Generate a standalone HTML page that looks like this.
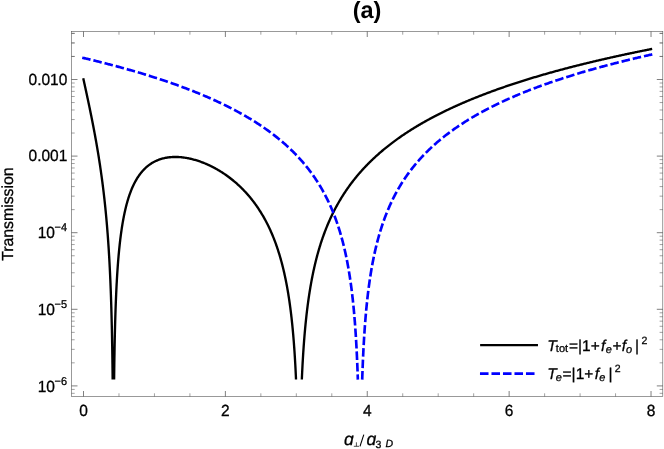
<!DOCTYPE html>
<html><head><meta charset="utf-8"><title>(a)</title>
<style>
html,body{margin:0;padding:0;background:#fff;}
body{width:664px;height:449px;overflow:hidden;font-family:"Liberation Sans",sans-serif;}
svg{display:block;font-family:"Liberation Sans",sans-serif;} text{filter:grayscale(1);text-rendering:geometricPrecision;stroke:#000;stroke-width:0.3px;}
</style></head><body>
<svg width="664" height="449" viewBox="0 0 664 449">
<rect x="0" y="0" width="664" height="449" fill="#fff"/>
<!-- curves -->
<path d="M83.50,79.42 L83.68,80.23 L83.85,81.03 L84.03,81.84 L84.21,82.65 L84.39,83.46 L84.56,84.27 L84.74,85.08 L84.92,85.89 L85.10,86.70 L85.27,87.52 L85.45,88.33 L85.63,89.15 L85.81,89.96 L85.98,90.78 L86.16,91.60 L86.34,92.42 L86.51,93.24 L86.69,94.07 L86.87,94.89 L87.05,95.72 L87.22,96.55 L87.40,97.38 L87.58,98.21 L87.76,99.04 L87.93,99.87 L88.11,100.71 L88.29,101.55 L88.47,102.39 L88.64,103.23 L88.82,104.08 L89.00,104.92 L89.18,105.77 L89.35,106.62 L89.53,107.48 L89.71,108.33 L89.88,109.19 L90.06,110.05 L90.24,110.91 L90.42,111.78 L90.59,112.65 L90.77,113.52 L90.95,114.40 L91.13,115.27 L91.30,116.15 L91.48,117.04 L91.66,117.92 L91.84,118.81 L92.01,119.71 L92.19,120.61 L92.37,121.51 L92.54,122.41 L92.72,123.32 L92.90,124.23 L93.08,125.15 L93.25,126.06 L93.43,126.99 L93.61,127.92 L93.79,128.85 L93.96,129.78 L94.14,130.73 L94.32,131.67 L94.50,132.62 L94.67,133.58 L94.85,134.54 L95.03,135.50 L95.21,136.47 L95.38,137.45 L95.56,138.43 L95.70,139.22 L95.84,140.01 L95.99,140.81 L96.13,141.61 L96.27,142.41 L96.41,143.22 L96.55,144.04 L96.69,144.85 L96.84,145.67 L96.98,146.50 L97.12,147.33 L97.26,148.16 L97.40,149.00 L97.55,149.84 L97.69,150.69 L97.83,151.54 L97.97,152.40 L98.11,153.26 L98.26,154.13 L98.40,155.01 L98.54,155.89 L98.68,156.77 L98.82,157.66 L98.96,158.56 L99.11,159.46 L99.25,160.37 L99.39,161.28 L99.53,162.20 L99.67,163.13 L99.82,164.06 L99.96,165.00 L100.10,165.95 L100.24,166.90 L100.38,167.86 L100.53,168.83 L100.67,169.81 L100.81,170.79 L100.95,171.79 L101.09,172.79 L101.23,173.80 L101.38,174.81 L101.52,175.84 L101.66,176.88 L101.80,177.92 L101.94,178.97 L102.05,179.77 L102.16,180.57 L102.26,181.38 L102.37,182.20 L102.48,183.02 L102.58,183.84 L102.69,184.68 L102.80,185.52 L102.90,186.36 L103.01,187.21 L103.11,188.07 L103.22,188.94 L103.33,189.81 L103.43,190.69 L103.54,191.58 L103.65,192.47 L103.75,193.38 L103.86,194.29 L103.97,195.21 L104.07,196.13 L104.18,197.07 L104.29,198.01 L104.39,198.96 L104.50,199.93 L104.60,200.90 L104.71,201.88 L104.82,202.87 L104.92,203.87 L105.03,204.88 L105.14,205.90 L105.24,206.94 L105.35,207.98 L105.46,209.04 L105.56,210.10 L105.67,211.18 L105.78,212.27 L105.88,213.38 L105.99,214.50 L106.09,215.63 L106.20,216.77 L106.31,217.93 L106.41,219.11 L106.52,220.30 L106.59,221.10 L106.66,221.91 L106.73,222.72 L106.80,223.55 L106.87,224.38 L106.95,225.22 L107.02,226.07 L107.09,226.92 L107.16,227.79 L107.23,228.66 L107.30,229.54 L107.37,230.43 L107.44,231.33 L107.51,232.24 L107.58,233.16 L107.66,234.09 L107.73,235.03 L107.80,235.98 L107.87,236.94 L107.94,237.91 L108.01,238.89 L108.08,239.88 L108.15,240.89 L108.22,241.91 L108.29,242.94 L108.36,243.98 L108.44,245.04 L108.51,246.11 L108.58,247.19 L108.65,248.29 L108.72,249.41 L108.79,250.53 L108.86,251.68 L108.93,252.84 L109.00,254.02 L109.07,255.21 L109.14,256.43 L109.22,257.66 L109.29,258.91 L109.36,260.18 L109.43,261.48 L109.50,262.79 L109.57,264.13 L109.64,265.49 L109.71,266.87 L109.78,268.28 L109.85,269.71 L109.93,271.17 L110.00,272.66 L110.07,274.18 L110.14,275.73 L110.21,277.31 L110.24,278.11 L110.28,278.92 L110.32,279.74 L110.35,280.57 L110.39,281.41 L110.42,282.26 L110.46,283.12 L110.49,283.98 L110.53,284.86 L110.56,285.75 L110.60,286.65 L110.63,287.56 L110.67,288.48 L110.71,289.41 L110.74,290.35 L110.78,291.31 L110.81,292.28 L110.85,293.26 L110.88,294.25 L110.92,295.26 L110.95,296.28 L110.99,297.31 L111.02,298.36 L111.06,299.43 L111.10,300.51 L111.13,301.61 L111.17,302.72 L111.20,303.85 L111.24,305.00 L111.27,306.17 L111.31,307.36 L111.34,308.56 L111.38,309.79 L111.41,311.04 L111.45,312.31 L111.49,313.60 L111.52,314.91 L111.56,316.25 L111.59,317.62 L111.63,319.01 L111.66,320.43 L111.70,321.88 L111.73,323.36 L111.77,324.86 L111.81,326.41 L111.84,327.98 L111.88,329.59 L111.91,331.24 L111.95,332.93 L111.98,334.66 L112.02,336.43 L112.05,338.25 L112.09,340.12 L112.12,342.04 L112.16,344.01 L112.20,346.04 L112.23,348.13 L112.27,350.28 L112.30,352.51 L112.34,354.80 L112.37,357.18 L112.41,359.63 L112.44,362.18 L112.48,364.83 L112.51,367.58 L112.55,370.44 L112.59,373.43 L112.62,376.56 L112.64,378.30 M114.13,378.30 L114.15,376.54 L114.18,373.61 L114.22,370.81 L114.25,368.13 L114.29,365.56 L114.32,363.08 L114.36,360.70 L114.39,358.40 L114.43,356.19 L114.47,354.04 L114.50,351.97 L114.54,349.96 L114.57,348.02 L114.61,346.13 L114.64,344.30 L114.68,342.52 L114.71,340.79 L114.75,339.10 L114.78,337.46 L114.82,335.86 L114.86,334.31 L114.89,332.78 L114.93,331.30 L114.96,329.85 L115.00,328.43 L115.03,327.05 L115.07,325.69 L115.10,324.37 L115.14,323.07 L115.17,321.80 L115.21,320.55 L115.25,319.33 L115.28,318.13 L115.32,316.96 L115.35,315.80 L115.39,314.67 L115.42,313.56 L115.46,312.47 L115.49,311.40 L115.53,310.35 L115.56,309.31 L115.60,308.29 L115.64,307.29 L115.67,306.31 L115.71,305.34 L115.74,304.39 L115.78,303.45 L115.81,302.53 L115.85,301.62 L115.88,300.72 L115.92,299.84 L115.96,298.97 L115.99,298.11 L116.03,297.26 L116.06,296.43 L116.10,295.61 L116.13,294.80 L116.17,294.00 L116.24,292.43 L116.31,290.90 L116.38,289.41 L116.45,287.96 L116.52,286.54 L116.59,285.16 L116.66,283.81 L116.74,282.49 L116.81,281.20 L116.88,279.94 L116.95,278.70 L117.02,277.49 L117.09,276.31 L117.16,275.15 L117.23,274.01 L117.30,272.90 L117.37,271.81 L117.44,270.73 L117.52,269.68 L117.59,268.65 L117.66,267.64 L117.73,266.64 L117.80,265.67 L117.87,264.71 L117.94,263.76 L118.01,262.83 L118.08,261.92 L118.15,261.02 L118.23,260.14 L118.30,259.27 L118.37,258.42 L118.44,257.57 L118.51,256.75 L118.58,255.93 L118.65,255.13 L118.76,253.94 L118.86,252.78 L118.97,251.65 L119.08,250.54 L119.18,249.46 L119.29,248.39 L119.40,247.35 L119.50,246.33 L119.61,245.33 L119.71,244.34 L119.82,243.38 L119.93,242.43 L120.03,241.51 L120.14,240.59 L120.25,239.70 L120.35,238.82 L120.46,237.95 L120.57,237.10 L120.67,236.27 L120.78,235.45 L120.89,234.64 L120.99,233.85 L121.13,232.81 L121.28,231.79 L121.42,230.79 L121.56,229.82 L121.70,228.86 L121.84,227.93 L121.98,227.01 L122.13,226.11 L122.27,225.22 L122.41,224.36 L122.55,223.51 L122.69,222.67 L122.84,221.85 L122.98,221.05 L123.12,220.26 L123.30,219.29 L123.47,218.34 L123.65,217.41 L123.83,216.51 L124.01,215.62 L124.18,214.75 L124.36,213.89 L124.54,213.06 L124.72,212.24 L124.89,211.43 L125.07,210.64 L125.28,209.72 L125.50,208.81 L125.71,207.93 L125.92,207.06 L126.13,206.21 L126.35,205.38 L126.56,204.57 L126.77,203.77 L126.99,203.00 L127.23,202.11 L127.48,201.24 L127.73,200.39 L127.98,199.56 L128.23,198.75 L128.48,197.96 L128.72,197.19 L129.01,196.32 L129.29,195.48 L129.58,194.66 L129.86,193.85 L130.14,193.07 L130.43,192.30 L130.75,191.46 L131.07,190.65 L131.38,189.85 L131.70,189.07 L132.02,188.31 L132.34,187.57 L132.70,186.77 L133.05,185.99 L133.41,185.23 L133.76,184.50 L134.12,183.78 L134.51,183.01 L134.90,182.26 L135.29,181.53 L135.68,180.82 L136.10,180.07 L136.53,179.35 L136.95,178.64 L137.38,177.96 L137.84,177.23 L138.30,176.54 L138.76,175.86 L139.22,175.20 L139.72,174.52 L140.22,173.86 L140.71,173.22 L141.25,172.55 L141.78,171.91 L142.31,171.29 L142.84,170.69 L143.41,170.08 L143.98,169.48 L144.54,168.91 L145.15,168.32 L145.75,167.76 L146.35,167.22 L146.99,166.67 L147.63,166.14 L148.27,165.63 L148.91,165.14 L149.58,164.65 L150.25,164.18 L150.93,163.72 L151.60,163.29 L152.31,162.86 L153.02,162.45 L153.73,162.05 L154.44,161.68 L155.18,161.30 L155.93,160.95 L156.67,160.61 L157.42,160.30 L158.16,160.00 L158.94,159.70 L159.73,159.42 L160.51,159.16 L161.29,158.92 L162.07,158.69 L162.85,158.48 L163.63,158.29 L164.41,158.11 L165.22,157.93 L166.04,157.78 L166.85,157.63 L167.67,157.51 L168.49,157.39 L169.30,157.29 L170.12,157.21 L170.93,157.13 L171.75,157.07 L172.57,157.03 L173.38,156.99 L174.20,156.97 L175.01,156.96 L175.83,156.96 L176.64,156.98 L177.46,157.00 L178.28,157.03 L179.09,157.08 L179.91,157.14 L180.72,157.20 L181.54,157.28 L182.35,157.37 L183.17,157.46 L183.99,157.57 L184.80,157.69 L185.62,157.81 L186.43,157.95 L187.25,158.10 L188.07,158.25 L188.88,158.41 L189.70,158.59 L190.51,158.77 L191.29,158.95 L192.07,159.14 L192.85,159.34 L193.63,159.54 L194.41,159.76 L195.20,159.98 L195.98,160.21 L196.76,160.45 L197.54,160.69 L198.32,160.95 L199.10,161.21 L199.88,161.48 L200.66,161.75 L201.44,162.04 L202.22,162.33 L203.00,162.63 L203.74,162.92 L204.49,163.22 L205.23,163.53 L205.98,163.84 L206.72,164.17 L207.47,164.49 L208.21,164.83 L208.96,165.17 L209.70,165.52 L210.45,165.88 L211.19,166.24 L211.94,166.61 L212.68,166.99 L213.43,167.38 L214.14,167.75 L214.85,168.13 L215.55,168.52 L216.26,168.91 L216.97,169.31 L217.68,169.72 L218.39,170.14 L219.10,170.56 L219.81,170.99 L220.52,171.42 L221.23,171.87 L221.94,172.32 L222.61,172.75 L223.29,173.19 L223.96,173.64 L224.64,174.10 L225.31,174.56 L225.98,175.03 L226.66,175.50 L227.33,175.99 L228.00,176.48 L228.68,176.98 L229.35,177.48 L229.99,177.97 L230.63,178.46 L231.27,178.96 L231.91,179.47 L232.54,179.98 L233.18,180.50 L233.82,181.03 L234.46,181.56 L235.10,182.11 L235.74,182.66 L236.34,183.19 L236.94,183.72 L237.55,184.26 L238.15,184.81 L238.75,185.37 L239.36,185.93 L239.96,186.50 L240.56,187.08 L241.16,187.67 L241.77,188.27 L242.33,188.83 L242.90,189.41 L243.47,189.99 L244.04,190.58 L244.60,191.18 L245.17,191.79 L245.74,192.40 L246.31,193.02 L246.87,193.65 L247.41,194.25 L247.94,194.86 L248.47,195.47 L249.00,196.10 L249.54,196.73 L250.07,197.37 L250.60,198.01 L251.13,198.67 L251.66,199.33 L252.16,199.96 L252.66,200.60 L253.15,201.24 L253.65,201.90 L254.15,202.56 L254.64,203.23 L255.14,203.91 L255.64,204.59 L256.13,205.29 L256.59,205.94 L257.05,206.61 L257.52,207.28 L257.98,207.96 L258.44,208.65 L258.90,209.35 L259.36,210.06 L259.82,210.77 L260.28,211.50 L260.71,212.18 L261.13,212.87 L261.56,213.56 L261.99,214.27 L262.41,214.98 L262.84,215.71 L263.26,216.44 L263.69,217.18 L264.11,217.94 L264.50,218.64 L264.89,219.34 L265.28,220.06 L265.67,220.79 L266.06,221.52 L266.45,222.27 L266.84,223.02 L267.23,223.79 L267.62,224.56 L268.01,225.35 L268.37,226.07 L268.72,226.81 L269.08,227.55 L269.43,228.30 L269.79,229.06 L270.14,229.83 L270.50,230.61 L270.85,231.41 L271.21,232.21 L271.56,233.02 L271.88,233.77 L272.20,234.52 L272.52,235.28 L272.84,236.05 L273.16,236.83 L273.48,237.62 L273.80,238.43 L274.12,239.24 L274.44,240.06 L274.75,240.90 L275.04,241.65 L275.32,242.41 L275.61,243.19 L275.89,243.97 L276.17,244.76 L276.46,245.56 L276.74,246.37 L277.02,247.20 L277.31,248.03 L277.59,248.88 L277.88,249.74 L278.12,250.50 L278.37,251.27 L278.62,252.05 L278.87,252.84 L279.12,253.64 L279.37,254.46 L279.61,255.28 L279.86,256.11 L280.11,256.96 L280.36,257.81 L280.61,258.68 L280.86,259.56 L281.10,260.45 L281.32,261.23 L281.53,262.01 L281.74,262.81 L281.95,263.62 L282.17,264.43 L282.38,265.26 L282.59,266.10 L282.81,266.95 L283.02,267.81 L283.23,268.68 L283.44,269.57 L283.66,270.46 L283.87,271.37 L284.08,272.30 L284.26,273.08 L284.44,273.87 L284.61,274.67 L284.79,275.48 L284.97,276.30 L285.15,277.13 L285.32,277.98 L285.50,278.83 L285.68,279.70 L285.86,280.57 L286.03,281.46 L286.21,282.37 L286.39,283.28 L286.57,284.21 L286.74,285.15 L286.92,286.11 L287.10,287.08 L287.24,287.87 L287.38,288.67 L287.52,289.47 L287.67,290.29 L287.81,291.12 L287.95,291.96 L288.09,292.81 L288.23,293.67 L288.37,294.54 L288.52,295.43 L288.66,296.33 L288.80,297.24 L288.94,298.16 L289.08,299.10 L289.23,300.05 L289.37,301.01 L289.51,301.99 L289.65,302.99 L289.79,304.00 L289.94,305.02 L290.08,306.07 L290.18,306.86 L290.29,307.66 L290.40,308.48 L290.50,309.30 L290.61,310.13 L290.72,310.98 L290.82,311.83 L290.93,312.70 L291.03,313.58 L291.14,314.47 L291.25,315.38 L291.35,316.29 L291.46,317.22 L291.57,318.17 L291.67,319.12 L291.78,320.09 L291.89,321.08 L291.99,322.08 L292.10,323.10 L292.21,324.13 L292.31,325.18 L292.42,326.25 L292.52,327.33 L292.63,328.43 L292.74,329.56 L292.84,330.70 L292.95,331.86 L293.06,333.04 L293.13,333.84 L293.20,334.65 L293.27,335.47 L293.34,336.30 L293.41,337.15 L293.48,338.00 L293.55,338.86 L293.62,339.74 L293.70,340.62 L293.77,341.52 L293.84,342.44 L293.91,343.36 L293.98,344.30 L294.05,345.25 L294.12,346.22 L294.19,347.20 L294.26,348.19 L294.33,349.20 L294.40,350.23 L294.48,351.27 L294.55,352.33 L294.62,353.41 L294.69,354.50 L294.76,355.61 L294.83,356.74 L294.90,357.90 L294.97,359.07 L295.04,360.26 L295.11,361.48 L295.18,362.72 L295.26,363.98 L295.33,365.27 L295.40,366.58 L295.47,367.92 L295.54,369.29 L295.61,370.68 L295.68,372.11 L295.75,373.57 L295.82,375.06 L295.89,376.58 L295.97,378.15 L295.97,378.30 M301.88,378.30 L301.92,377.38 L302.00,375.81 L302.07,374.28 L302.14,372.78 L302.21,371.31 L302.28,369.88 L302.35,368.47 L302.42,367.10 L302.49,365.75 L302.56,364.43 L302.63,363.13 L302.70,361.86 L302.78,360.61 L302.85,359.38 L302.92,358.18 L302.99,357.00 L303.06,355.84 L303.13,354.69 L303.20,353.57 L303.27,352.47 L303.34,351.38 L303.41,350.31 L303.48,349.26 L303.56,348.22 L303.63,347.20 L303.70,346.20 L303.77,345.20 L303.84,344.23 L303.91,343.27 L303.98,342.32 L304.05,341.38 L304.12,340.46 L304.19,339.55 L304.27,338.65 L304.34,337.76 L304.41,336.89 L304.48,336.02 L304.55,335.17 L304.62,334.33 L304.69,333.50 L304.76,332.68 L304.83,331.86 L304.90,331.06 L305.01,329.88 L305.12,328.71 L305.22,327.57 L305.33,326.44 L305.44,325.33 L305.54,324.24 L305.65,323.17 L305.76,322.11 L305.86,321.07 L305.97,320.05 L306.07,319.04 L306.18,318.05 L306.29,317.07 L306.39,316.10 L306.50,315.15 L306.61,314.21 L306.71,313.28 L306.82,312.37 L306.93,311.47 L307.03,310.58 L307.14,309.70 L307.24,308.83 L307.35,307.98 L307.46,307.13 L307.56,306.30 L307.67,305.47 L307.78,304.66 L307.88,303.85 L307.99,303.06 L308.13,302.01 L308.27,300.98 L308.42,299.96 L308.56,298.96 L308.70,297.98 L308.84,297.01 L308.98,296.05 L309.12,295.10 L309.27,294.17 L309.41,293.25 L309.55,292.34 L309.69,291.45 L309.83,290.56 L309.98,289.69 L310.12,288.83 L310.26,287.98 L310.40,287.14 L310.54,286.31 L310.69,285.49 L310.83,284.68 L310.97,283.88 L311.11,283.09 L311.29,282.11 L311.47,281.15 L311.64,280.20 L311.82,279.26 L312.00,278.34 L312.18,277.43 L312.35,276.53 L312.53,275.64 L312.71,274.76 L312.88,273.90 L313.06,273.04 L313.24,272.20 L313.42,271.36 L313.59,270.54 L313.77,269.72 L313.95,268.92 L314.13,268.12 L314.30,267.34 L314.52,266.41 L314.73,265.49 L314.94,264.58 L315.15,263.68 L315.37,262.80 L315.58,261.93 L315.79,261.06 L316.01,260.21 L316.22,259.37 L316.43,258.54 L316.64,257.72 L316.86,256.91 L317.07,256.11 L317.28,255.31 L317.50,254.53 L317.71,253.76 L317.96,252.86 L318.20,251.98 L318.45,251.11 L318.70,250.25 L318.95,249.40 L319.20,248.56 L319.45,247.73 L319.69,246.91 L319.94,246.10 L320.19,245.30 L320.44,244.51 L320.69,243.73 L320.94,242.96 L321.18,242.19 L321.47,241.33 L321.75,240.47 L322.04,239.63 L322.32,238.80 L322.60,237.97 L322.89,237.16 L323.17,236.36 L323.45,235.56 L323.74,234.77 L324.02,234.00 L324.31,233.23 L324.59,232.47 L324.87,231.71 L325.19,230.88 L325.51,230.05 L325.83,229.23 L326.15,228.43 L326.47,227.63 L326.79,226.84 L327.11,226.06 L327.43,225.29 L327.75,224.52 L328.07,223.77 L328.38,223.02 L328.70,222.28 L329.06,221.47 L329.41,220.66 L329.77,219.87 L330.12,219.08 L330.48,218.31 L330.83,217.54 L331.19,216.78 L331.54,216.03 L331.90,215.28 L332.25,214.55 L332.61,213.82 L332.96,213.10 L333.35,212.31 L333.74,211.54 L334.13,210.77 L334.52,210.01 L334.91,209.26 L335.30,208.52 L335.69,207.78 L336.08,207.05 L336.47,206.33 L336.86,205.62 L337.25,204.91 L337.64,204.21 L338.07,203.46 L338.49,202.71 L338.92,201.97 L339.35,201.24 L339.77,200.52 L340.20,199.80 L340.62,199.09 L341.05,198.39 L341.47,197.69 L341.90,197.00 L342.32,196.32 L342.79,195.59 L343.25,194.87 L343.71,194.15 L344.17,193.44 L344.63,192.74 L345.09,192.04 L345.55,191.35 L346.01,190.67 L346.47,189.99 L346.94,189.32 L347.40,188.66 L347.86,188.00 L348.35,187.30 L348.85,186.61 L349.35,185.92 L349.84,185.24 L350.34,184.56 L350.84,183.89 L351.33,183.23 L351.83,182.58 L352.33,181.93 L352.82,181.28 L353.32,180.64 L353.82,180.01 L354.31,179.38 L354.85,178.72 L355.38,178.06 L355.91,177.40 L356.44,176.76 L356.97,176.11 L357.51,175.48 L358.04,174.85 L358.57,174.22 L359.10,173.60 L359.63,172.99 L360.17,172.38 L360.70,171.77 L361.23,171.17 L361.80,170.54 L362.37,169.91 L362.93,169.29 L363.50,168.67 L364.07,168.06 L364.64,167.45 L365.20,166.85 L365.77,166.26 L366.34,165.66 L366.91,165.08 L367.47,164.49 L368.04,163.92 L368.61,163.34 L369.18,162.78 L369.78,162.18 L370.38,161.58 L370.98,160.99 L371.59,160.41 L372.19,159.83 L372.79,159.26 L373.40,158.69 L374.00,158.12 L374.60,157.56 L375.21,157.00 L375.81,156.45 L376.41,155.90 L377.01,155.35 L377.62,154.81 L378.22,154.28 L378.82,153.75 L379.43,153.22 L380.06,152.66 L380.70,152.11 L381.34,151.56 L381.98,151.02 L382.62,150.48 L383.26,149.95 L383.90,149.42 L384.53,148.89 L385.17,148.37 L385.81,147.85 L386.45,147.33 L387.09,146.82 L387.73,146.31 L388.36,145.81 L389.00,145.31 L389.64,144.81 L390.28,144.32 L390.92,143.82 L391.56,143.34 L392.20,142.85 L392.87,142.35 L393.54,141.84 L394.22,141.34 L394.89,140.84 L395.57,140.35 L396.24,139.86 L396.91,139.37 L397.59,138.89 L398.26,138.41 L398.93,137.93 L399.61,137.46 L400.28,136.99 L400.96,136.52 L401.63,136.05 L402.30,135.59 L402.98,135.13 L403.65,134.68 L404.33,134.22 L405.00,133.77 L405.67,133.32 L406.35,132.88 L407.02,132.44 L407.70,132.00 L408.37,131.56 L409.04,131.13 L409.72,130.70 L410.43,130.25 L411.14,129.80 L411.85,129.35 L412.56,128.91 L413.26,128.47 L413.97,128.03 L414.68,127.60 L415.39,127.16 L416.10,126.73 L416.81,126.31 L417.52,125.88 L418.23,125.46 L418.94,125.04 L419.65,124.62 L420.36,124.21 L421.07,123.80 L421.78,123.39 L422.49,122.98 L423.20,122.57 L423.91,122.17 L424.61,121.77 L425.32,121.37 L426.03,120.97 L426.74,120.58 L427.45,120.19 L428.16,119.80 L428.87,119.41 L429.58,119.02 L430.29,118.64 L431.00,118.26 L431.71,117.88 L432.42,117.50 L433.13,117.13 L433.84,116.75 L434.55,116.38 L435.29,115.99 L436.04,115.61 L436.78,115.22 L437.53,114.84 L438.27,114.46 L439.02,114.08 L439.76,113.71 L440.51,113.33 L441.25,112.96 L442.00,112.59 L442.74,112.22 L443.49,111.86 L444.23,111.49 L444.97,111.13 L445.72,110.77 L446.46,110.41 L447.21,110.05 L447.95,109.70 L448.70,109.34 L449.44,108.99 L450.19,108.64 L450.93,108.29 L451.68,107.95 L452.42,107.60 L453.17,107.26 L453.91,106.92 L454.66,106.58 L455.40,106.24 L456.15,105.90 L456.89,105.57 L457.64,105.23 L458.38,104.90 L459.13,104.57 L459.87,104.24 L460.62,103.92 L461.36,103.59 L462.11,103.26 L462.85,102.94 L463.60,102.62 L464.34,102.30 L465.09,101.98 L465.83,101.66 L466.58,101.35 L467.32,101.03 L468.07,100.72 L468.81,100.41 L469.56,100.10 L470.30,99.79 L471.05,99.48 L471.79,99.18 L472.53,98.87 L473.28,98.57 L474.02,98.27 L474.77,97.97 L475.51,97.67 L476.26,97.37 L477.00,97.07 L477.75,96.78 L478.49,96.48 L479.24,96.19 L479.98,95.89 L480.76,95.59 L481.54,95.29 L482.32,94.98 L483.11,94.68 L483.89,94.38 L484.67,94.09 L485.45,93.79 L486.23,93.49 L487.01,93.20 L487.79,92.90 L488.57,92.61 L489.35,92.32 L490.13,92.03 L490.91,91.74 L491.69,91.46 L492.47,91.17 L493.25,90.89 L494.03,90.60 L494.81,90.32 L495.59,90.04 L496.37,89.76 L497.15,89.48 L497.93,89.20 L498.71,88.92 L499.49,88.65 L500.27,88.37 L501.05,88.10 L501.83,87.82 L502.61,87.55 L503.39,87.28 L504.17,87.01 L504.95,86.74 L505.73,86.48 L506.52,86.21 L507.30,85.94 L508.08,85.68 L508.86,85.42 L509.64,85.15 L510.42,84.89 L511.20,84.63 L511.98,84.37 L512.76,84.11 L513.54,83.86 L514.32,83.60 L515.10,83.34 L515.88,83.09 L516.66,82.84 L517.44,82.58 L518.22,82.33 L519.00,82.08 L519.78,81.83 L520.56,81.58 L521.34,81.33 L522.12,81.08 L522.90,80.84 L523.68,80.59 L524.46,80.35 L525.24,80.10 L526.02,79.86 L526.80,79.62 L527.58,79.38 L528.36,79.14 L529.15,78.90 L529.93,78.66 L530.71,78.42 L531.49,78.18 L532.27,77.95 L533.05,77.71 L533.83,77.47 L534.61,77.24 L535.39,77.01 L536.17,76.77 L536.95,76.54 L537.73,76.31 L538.51,76.08 L539.29,75.85 L540.07,75.62 L540.85,75.40 L541.63,75.17 L542.41,74.94 L543.19,74.72 L543.97,74.49 L544.75,74.27 L545.53,74.04 L546.31,73.82 L547.09,73.60 L547.87,73.38 L548.65,73.16 L549.43,72.94 L550.21,72.72 L550.99,72.50 L551.77,72.28 L552.56,72.07 L553.34,71.85 L554.12,71.63 L554.90,71.42 L555.68,71.21 L556.46,70.99 L557.24,70.78 L558.02,70.57 L558.80,70.36 L559.58,70.14 L560.36,69.93 L561.14,69.72 L561.92,69.52 L562.70,69.31 L563.48,69.10 L564.26,68.89 L565.04,68.69 L565.82,68.48 L566.60,68.27 L567.38,68.07 L568.16,67.87 L568.94,67.66 L569.72,67.46 L570.50,67.26 L571.28,67.06 L572.06,66.86 L572.84,66.65 L573.62,66.46 L574.40,66.26 L575.19,66.06 L575.97,65.86 L576.75,65.66 L577.53,65.47 L578.31,65.27 L579.09,65.07 L579.87,64.88 L580.65,64.68 L581.43,64.49 L582.21,64.30 L582.99,64.10 L583.77,63.91 L584.55,63.72 L585.33,63.53 L586.11,63.34 L586.89,63.15 L587.67,62.96 L588.45,62.77 L589.23,62.58 L590.01,62.39 L590.79,62.20 L591.57,62.02 L592.35,61.83 L593.13,61.64 L593.91,61.46 L594.69,61.27 L595.47,61.09 L596.25,60.91 L597.03,60.72 L597.81,60.54 L598.60,60.36 L599.38,60.18 L600.16,59.99 L600.94,59.81 L601.72,59.63 L602.50,59.45 L603.28,59.27 L604.06,59.09 L604.84,58.92 L605.62,58.74 L606.40,58.56 L607.18,58.38 L607.96,58.21 L608.78,58.02 L609.59,57.84 L610.41,57.66 L611.22,57.47 L612.04,57.29 L612.85,57.11 L613.67,56.93 L614.49,56.75 L615.30,56.57 L616.12,56.39 L616.93,56.21 L617.75,56.03 L618.56,55.85 L619.38,55.67 L620.20,55.50 L621.01,55.32 L621.83,55.14 L622.64,54.97 L623.46,54.79 L624.28,54.62 L625.09,54.44 L625.91,54.27 L626.72,54.10 L627.54,53.92 L628.35,53.75 L629.17,53.58 L629.99,53.41 L630.80,53.24 L631.62,53.07 L632.43,52.90 L633.25,52.73 L634.07,52.56 L634.88,52.39 L635.70,52.22 L636.51,52.05 L637.33,51.88 L638.14,51.72 L638.96,51.55 L639.78,51.38 L640.59,51.22 L641.41,51.05 L642.22,50.89 L643.04,50.72 L643.86,50.56 L644.67,50.39 L645.49,50.23 L646.30,50.07 L647.12,49.90 L647.93,49.74 L648.75,49.58 L649.57,49.42 L650.38,49.26 L651.02,49.13" fill="none" stroke="#000" stroke-width="2.35" stroke-linejoin="round" stroke-linecap="square"/>
<path d="M83.50,57.97 L84.28,58.15 L85.06,58.34 L85.84,58.52 L86.62,58.71 L87.40,58.90 L88.18,59.08 L88.96,59.27 L89.74,59.46 L90.52,59.65 L91.30,59.84 L92.08,60.03 L92.86,60.22 L93.64,60.41 L94.42,60.60 L95.21,60.79 L95.99,60.99 L96.77,61.18 L97.55,61.38 L98.33,61.57 L99.11,61.77 L99.89,61.96 L100.67,62.16 L101.45,62.35 L102.23,62.55 L103.01,62.75 L103.79,62.95 L104.57,63.15 L105.35,63.35 L106.13,63.55 L106.91,63.75 L107.69,63.95 L108.47,64.16 L109.25,64.36 L110.03,64.56 L110.81,64.77 L111.59,64.97 L112.37,65.18 L113.15,65.39 L113.93,65.59 L114.71,65.80 L115.49,66.01 L116.27,66.22 L117.05,66.43 L117.83,66.64 L118.62,66.85 L119.40,67.07 L120.18,67.28 L120.96,67.49 L121.74,67.71 L122.52,67.92 L123.30,68.14 L124.08,68.35 L124.86,68.57 L125.64,68.79 L126.42,69.01 L127.20,69.23 L127.98,69.45 L128.76,69.67 L129.54,69.89 L130.32,70.11 L131.10,70.34 L131.88,70.56 L132.66,70.79 L133.44,71.01 L134.22,71.24 L135.00,71.47 L135.78,71.70 L136.56,71.92 L137.34,72.15 L138.12,72.38 L138.90,72.62 L139.68,72.85 L140.46,73.08 L141.25,73.32 L142.03,73.55 L142.81,73.79 L143.59,74.02 L144.37,74.26 L145.15,74.50 L145.93,74.74 L146.71,74.98 L147.49,75.22 L148.27,75.46 L149.05,75.70 L149.83,75.95 L150.61,76.19 L151.39,76.44 L152.17,76.69 L152.95,76.93 L153.73,77.18 L154.51,77.43 L155.29,77.68 L156.07,77.93 L156.85,78.18 L157.63,78.44 L158.41,78.69 L159.19,78.95 L159.97,79.20 L160.75,79.46 L161.53,79.72 L162.31,79.98 L163.09,80.24 L163.88,80.50 L164.66,80.76 L165.44,81.03 L166.22,81.29 L167.00,81.56 L167.78,81.83 L168.56,82.09 L169.34,82.36 L170.12,82.63 L170.90,82.91 L171.68,83.18 L172.46,83.45 L173.24,83.73 L174.02,84.00 L174.80,84.28 L175.58,84.56 L176.36,84.84 L177.14,85.12 L177.92,85.40 L178.70,85.68 L179.48,85.97 L180.26,86.25 L181.04,86.54 L181.82,86.83 L182.60,87.12 L183.38,87.41 L184.16,87.70 L184.94,88.00 L185.72,88.29 L186.50,88.59 L187.29,88.89 L188.07,89.18 L188.85,89.48 L189.63,89.79 L190.41,90.09 L191.19,90.39 L191.93,90.69 L192.68,90.98 L193.42,91.27 L194.17,91.57 L194.91,91.87 L195.66,92.17 L196.40,92.47 L197.15,92.77 L197.89,93.07 L198.64,93.38 L199.38,93.68 L200.13,93.99 L200.87,94.30 L201.62,94.61 L202.36,94.92 L203.10,95.23 L203.85,95.55 L204.59,95.86 L205.34,96.18 L206.08,96.50 L206.83,96.82 L207.57,97.14 L208.32,97.47 L209.06,97.79 L209.81,98.12 L210.55,98.45 L211.30,98.78 L212.04,99.11 L212.79,99.45 L213.53,99.78 L214.28,100.12 L215.02,100.46 L215.77,100.80 L216.51,101.14 L217.26,101.49 L218.00,101.83 L218.75,102.18 L219.49,102.53 L220.24,102.88 L220.98,103.23 L221.73,103.59 L222.47,103.95 L223.22,104.31 L223.96,104.67 L224.71,105.03 L225.45,105.40 L226.20,105.77 L226.94,106.14 L227.69,106.51 L228.43,106.88 L229.18,107.26 L229.92,107.64 L230.67,108.02 L231.41,108.40 L232.15,108.78 L232.90,109.17 L233.61,109.54 L234.32,109.91 L235.03,110.29 L235.74,110.67 L236.45,111.05 L237.16,111.43 L237.87,111.81 L238.57,112.20 L239.28,112.59 L239.99,112.98 L240.70,113.37 L241.41,113.76 L242.12,114.16 L242.83,114.56 L243.54,114.96 L244.25,115.37 L244.96,115.78 L245.67,116.19 L246.38,116.60 L247.09,117.02 L247.80,117.43 L248.51,117.85 L249.22,118.28 L249.93,118.70 L250.63,119.13 L251.34,119.56 L252.05,120.00 L252.76,120.44 L253.47,120.88 L254.18,121.32 L254.89,121.76 L255.60,122.21 L256.31,122.67 L256.98,123.10 L257.66,123.53 L258.33,123.97 L259.01,124.41 L259.68,124.86 L260.35,125.31 L261.03,125.76 L261.70,126.21 L262.38,126.67 L263.05,127.12 L263.72,127.59 L264.40,128.05 L265.07,128.52 L265.74,129.00 L266.42,129.47 L267.09,129.95 L267.77,130.44 L268.44,130.92 L269.11,131.41 L269.79,131.91 L270.46,132.40 L271.14,132.91 L271.81,133.41 L272.45,133.89 L273.09,134.38 L273.73,134.87 L274.36,135.36 L275.00,135.86 L275.64,136.36 L276.28,136.86 L276.92,137.37 L277.56,137.88 L278.19,138.40 L278.83,138.92 L279.47,139.45 L280.11,139.97 L280.75,140.51 L281.39,141.04 L282.03,141.59 L282.66,142.13 L283.30,142.68 L283.94,143.24 L284.54,143.77 L285.15,144.30 L285.75,144.84 L286.35,145.38 L286.96,145.92 L287.56,146.47 L288.16,147.03 L288.76,147.59 L289.37,148.15 L289.97,148.72 L290.57,149.30 L291.18,149.88 L291.78,150.46 L292.38,151.05 L292.99,151.65 L293.55,152.21 L294.12,152.78 L294.69,153.36 L295.26,153.94 L295.82,154.52 L296.39,155.11 L296.96,155.71 L297.53,156.31 L298.09,156.91 L298.66,157.53 L299.23,158.14 L299.80,158.77 L300.36,159.40 L300.93,160.03 L301.46,160.63 L302.00,161.24 L302.53,161.85 L303.06,162.47 L303.59,163.09 L304.12,163.72 L304.66,164.36 L305.19,165.00 L305.72,165.65 L306.25,166.30 L306.78,166.97 L307.32,167.63 L307.81,168.26 L308.31,168.90 L308.81,169.54 L309.30,170.19 L309.80,170.84 L310.30,171.50 L310.79,172.17 L311.29,172.84 L311.78,173.52 L312.28,174.21 L312.78,174.91 L313.27,175.61 L313.74,176.27 L314.20,176.94 L314.66,177.61 L315.12,178.29 L315.58,178.97 L316.04,179.67 L316.50,180.37 L316.96,181.08 L317.42,181.79 L317.89,182.52 L318.35,183.25 L318.77,183.93 L319.20,184.62 L319.62,185.32 L320.05,186.02 L320.48,186.73 L320.90,187.45 L321.33,188.18 L321.75,188.92 L322.18,189.66 L322.60,190.41 L323.03,191.17 L323.42,191.88 L323.81,192.59 L324.20,193.31 L324.59,194.04 L324.98,194.78 L325.37,195.52 L325.76,196.27 L326.15,197.04 L326.54,197.81 L326.93,198.59 L327.32,199.38 L327.68,200.10 L328.03,200.83 L328.38,201.58 L328.74,202.33 L329.09,203.08 L329.45,203.85 L329.80,204.63 L330.16,205.41 L330.51,206.21 L330.87,207.01 L331.22,207.83 L331.54,208.57 L331.86,209.32 L332.18,210.08 L332.50,210.84 L332.82,211.62 L333.14,212.40 L333.46,213.20 L333.78,214.00 L334.10,214.82 L334.41,215.64 L334.73,216.48 L335.02,217.23 L335.30,217.98 L335.59,218.75 L335.87,219.53 L336.15,220.32 L336.44,221.11 L336.72,221.92 L337.00,222.73 L337.29,223.56 L337.57,224.39 L337.86,225.24 L338.14,226.10 L338.42,226.96 L338.67,227.73 L338.92,228.51 L339.17,229.30 L339.42,230.09 L339.66,230.90 L339.91,231.72 L340.16,232.54 L340.41,233.38 L340.66,234.23 L340.91,235.09 L341.15,235.96 L341.40,236.84 L341.65,237.73 L341.86,238.51 L342.08,239.29 L342.29,240.08 L342.50,240.89 L342.71,241.70 L342.93,242.52 L343.14,243.36 L343.35,244.20 L343.57,245.05 L343.78,245.92 L343.99,246.80 L344.20,247.69 L344.42,248.59 L344.63,249.50 L344.84,250.43 L345.02,251.21 L345.20,252.00 L345.38,252.80 L345.55,253.61 L345.73,254.43 L345.91,255.26 L346.08,256.10 L346.26,256.96 L346.44,257.82 L346.62,258.69 L346.79,259.58 L346.97,260.48 L347.15,261.39 L347.33,262.31 L347.50,263.25 L347.68,264.19 L347.86,265.16 L348.04,266.13 L348.18,266.93 L348.32,267.73 L348.46,268.54 L348.60,269.36 L348.74,270.19 L348.89,271.03 L349.03,271.89 L349.17,272.75 L349.31,273.63 L349.45,274.51 L349.60,275.41 L349.74,276.32 L349.88,277.25 L350.02,278.19 L350.16,279.14 L350.31,280.10 L350.45,281.08 L350.59,282.07 L350.73,283.08 L350.87,284.10 L351.01,285.14 L351.16,286.20 L351.26,287.00 L351.37,287.82 L351.48,288.64 L351.58,289.47 L351.69,290.32 L351.80,291.17 L351.90,292.04 L352.01,292.91 L352.11,293.80 L352.22,294.70 L352.33,295.62 L352.43,296.54 L352.54,297.48 L352.65,298.44 L352.75,299.40 L352.86,300.38 L352.97,301.38 L353.07,302.39 L353.18,303.42 L353.28,304.46 L353.39,305.52 L353.50,306.59 L353.60,307.69 L353.71,308.80 L353.82,309.93 L353.92,311.08 L354.03,312.25 L354.14,313.44 L354.21,314.25 L354.28,315.07 L354.35,315.89 L354.42,316.73 L354.49,317.58 L354.56,318.43 L354.63,319.30 L354.70,320.19 L354.77,321.08 L354.85,321.98 L354.92,322.90 L354.99,323.83 L355.06,324.78 L355.13,325.73 L355.20,326.70 L355.27,327.69 L355.34,328.69 L355.41,329.71 L355.48,330.74 L355.55,331.79 L355.63,332.85 L355.70,333.93 L355.77,335.03 L355.84,336.15 L355.91,337.29 L355.98,338.45 L356.05,339.62 L356.12,340.82 L356.19,342.04 L356.26,343.29 L356.34,344.55 L356.41,345.85 L356.48,347.16 L356.55,348.51 L356.62,349.88 L356.69,351.28 L356.76,352.71 L356.83,354.17 L356.90,355.67 L356.97,357.20 L357.04,358.76 L357.12,360.37 L357.15,361.18 L357.19,362.01 L357.22,362.85 L357.26,363.69 L357.29,364.55 L357.33,365.42 L357.36,366.30 L357.40,367.20 L357.43,368.10 L357.47,369.02 L357.51,369.95 L357.54,370.89 L357.58,371.85 L357.61,372.82 L357.65,373.81 L357.68,374.81 L357.72,375.82 L357.75,376.86 L357.79,377.90 L357.80,378.30 M362.25,378.30 L362.29,376.86 L362.33,375.82 L362.37,374.81 L362.40,373.81 L362.44,372.82 L362.47,371.85 L362.51,370.89 L362.54,369.95 L362.58,369.02 L362.61,368.10 L362.65,367.20 L362.68,366.30 L362.72,365.42 L362.76,364.55 L362.79,363.69 L362.83,362.85 L362.86,362.01 L362.90,361.18 L362.93,360.37 L362.97,359.56 L363.04,357.98 L363.11,356.43 L363.18,354.92 L363.25,353.44 L363.32,351.99 L363.39,350.58 L363.46,349.19 L363.54,347.83 L363.61,346.50 L363.68,345.20 L363.75,343.92 L363.82,342.66 L363.89,341.43 L363.96,340.22 L364.03,339.03 L364.10,337.86 L364.17,336.72 L364.25,335.59 L364.32,334.48 L364.39,333.39 L364.46,332.32 L364.53,331.26 L364.60,330.22 L364.67,329.20 L364.74,328.19 L364.81,327.20 L364.88,326.22 L364.95,325.25 L365.03,324.30 L365.10,323.37 L365.17,322.44 L365.24,321.53 L365.31,320.63 L365.38,319.74 L365.45,318.87 L365.52,318.00 L365.59,317.15 L365.66,316.31 L365.73,315.48 L365.81,314.66 L365.88,313.84 L365.95,313.04 L366.05,311.86 L366.16,310.69 L366.27,309.55 L366.37,308.43 L366.48,307.32 L366.59,306.23 L366.69,305.16 L366.80,304.11 L366.91,303.07 L367.01,302.05 L367.12,301.05 L367.22,300.05 L367.33,299.08 L367.44,298.12 L367.54,297.17 L367.65,296.23 L367.76,295.31 L367.86,294.40 L367.97,293.51 L368.08,292.62 L368.18,291.75 L368.29,290.88 L368.40,290.03 L368.50,289.19 L368.61,288.36 L368.71,287.54 L368.82,286.73 L368.93,285.93 L369.07,284.88 L369.21,283.85 L369.35,282.83 L369.49,281.82 L369.64,280.83 L369.78,279.86 L369.92,278.90 L370.06,277.95 L370.20,277.02 L370.35,276.10 L370.49,275.19 L370.63,274.29 L370.77,273.41 L370.91,272.53 L371.06,271.67 L371.20,270.82 L371.34,269.98 L371.48,269.15 L371.62,268.34 L371.76,267.53 L371.91,266.73 L372.05,265.94 L372.23,264.96 L372.40,264.00 L372.58,263.06 L372.76,262.12 L372.94,261.20 L373.11,260.30 L373.29,259.40 L373.47,258.52 L373.64,257.64 L373.82,256.78 L374.00,255.93 L374.18,255.10 L374.35,254.27 L374.53,253.45 L374.71,252.64 L374.89,251.84 L375.06,251.05 L375.28,250.12 L375.49,249.20 L375.70,248.29 L375.91,247.39 L376.13,246.50 L376.34,245.63 L376.55,244.77 L376.77,243.92 L376.98,243.08 L377.19,242.25 L377.40,241.43 L377.62,240.62 L377.83,239.82 L378.04,239.03 L378.26,238.25 L378.47,237.47 L378.72,236.58 L378.97,235.71 L379.21,234.84 L379.46,233.98 L379.71,233.14 L379.96,232.31 L380.21,231.48 L380.45,230.67 L380.70,229.87 L380.95,229.07 L381.20,228.29 L381.45,227.51 L381.70,226.75 L381.98,225.88 L382.26,225.03 L382.55,224.18 L382.83,223.35 L383.12,222.53 L383.40,221.71 L383.68,220.91 L383.97,220.12 L384.25,219.33 L384.53,218.56 L384.82,217.79 L385.10,217.04 L385.39,216.29 L385.70,215.46 L386.02,214.63 L386.34,213.82 L386.66,213.02 L386.98,212.23 L387.30,211.45 L387.62,210.67 L387.94,209.91 L388.26,209.15 L388.58,208.40 L388.90,207.66 L389.25,206.85 L389.61,206.05 L389.96,205.25 L390.32,204.47 L390.67,203.70 L391.02,202.93 L391.38,202.17 L391.73,201.43 L392.09,200.69 L392.44,199.95 L392.80,199.23 L393.19,198.44 L393.58,197.67 L393.97,196.90 L394.36,196.14 L394.75,195.39 L395.14,194.64 L395.53,193.91 L395.92,193.18 L396.31,192.46 L396.70,191.75 L397.09,191.05 L397.52,190.29 L397.94,189.54 L398.37,188.79 L398.79,188.06 L399.22,187.33 L399.64,186.61 L400.07,185.90 L400.50,185.20 L400.92,184.50 L401.35,183.82 L401.77,183.13 L402.23,182.40 L402.69,181.68 L403.16,180.97 L403.62,180.26 L404.08,179.56 L404.54,178.87 L405.00,178.18 L405.46,177.50 L405.92,176.83 L406.38,176.17 L406.84,175.51 L407.34,174.81 L407.84,174.11 L408.33,173.43 L408.83,172.75 L409.33,172.07 L409.82,171.41 L410.32,170.75 L410.82,170.09 L411.31,169.45 L411.81,168.81 L412.31,168.17 L412.80,167.54 L413.34,166.88 L413.87,166.22 L414.40,165.56 L414.93,164.92 L415.46,164.27 L416.00,163.64 L416.53,163.01 L417.06,162.39 L417.59,161.77 L418.12,161.16 L418.66,160.55 L419.19,159.95 L419.76,159.32 L420.32,158.69 L420.89,158.07 L421.46,157.45 L422.03,156.84 L422.59,156.23 L423.16,155.63 L423.73,155.04 L424.30,154.45 L424.86,153.86 L425.43,153.28 L426.00,152.71 L426.57,152.14 L427.13,151.58 L427.74,150.98 L428.34,150.39 L428.94,149.81 L429.55,149.23 L430.15,148.66 L430.75,148.09 L431.35,147.52 L431.96,146.96 L432.56,146.41 L433.16,145.86 L433.77,145.31 L434.37,144.77 L434.97,144.24 L435.58,143.70 L436.18,143.18 L436.82,142.62 L437.46,142.07 L438.09,141.53 L438.73,140.98 L439.37,140.45 L440.01,139.92 L440.65,139.39 L441.29,138.86 L441.92,138.34 L442.56,137.83 L443.20,137.32 L443.84,136.81 L444.48,136.30 L445.12,135.80 L445.76,135.31 L446.39,134.81 L447.03,134.33 L447.67,133.84 L448.34,133.33 L449.02,132.83 L449.69,132.33 L450.37,131.83 L451.04,131.33 L451.71,130.85 L452.39,130.36 L453.06,129.88 L453.74,129.40 L454.41,128.92 L455.08,128.45 L455.76,127.98 L456.43,127.51 L457.11,127.05 L457.78,126.59 L458.45,126.14 L459.13,125.68 L459.80,125.23 L460.48,124.79 L461.15,124.34 L461.82,123.90 L462.50,123.47 L463.17,123.03 L463.84,122.60 L464.55,122.15 L465.26,121.70 L465.97,121.25 L466.68,120.81 L467.39,120.37 L468.10,119.93 L468.81,119.50 L469.52,119.07 L470.23,118.64 L470.94,118.21 L471.65,117.79 L472.36,117.37 L473.07,116.95 L473.78,116.54 L474.49,116.13 L475.20,115.72 L475.90,115.31 L476.61,114.90 L477.32,114.50 L478.03,114.10 L478.74,113.70 L479.45,113.31 L480.16,112.92 L480.87,112.53 L481.58,112.14 L482.29,111.75 L483.00,111.37 L483.71,110.99 L484.42,110.61 L485.13,110.23 L485.84,109.86 L486.55,109.49 L487.26,109.11 L488.00,108.73 L488.74,108.34 L489.49,107.96 L490.23,107.58 L490.98,107.20 L491.72,106.83 L492.47,106.45 L493.21,106.08 L493.96,105.71 L494.70,105.35 L495.45,104.98 L496.19,104.62 L496.94,104.26 L497.68,103.90 L498.43,103.54 L499.17,103.18 L499.92,102.83 L500.66,102.48 L501.41,102.13 L502.15,101.78 L502.90,101.44 L503.64,101.09 L504.39,100.75 L505.13,100.41 L505.88,100.07 L506.62,99.73 L507.37,99.40 L508.11,99.06 L508.86,98.73 L509.60,98.40 L510.35,98.07 L511.09,97.75 L511.84,97.42 L512.58,97.10 L513.33,96.77 L514.07,96.45 L514.82,96.13 L515.56,95.82 L516.30,95.50 L517.05,95.19 L517.79,94.87 L518.54,94.56 L519.28,94.25 L520.03,93.94 L520.77,93.64 L521.52,93.33 L522.26,93.03 L523.01,92.73 L523.75,92.42 L524.50,92.12 L525.24,91.83 L525.99,91.53 L526.73,91.23 L527.48,90.94 L528.22,90.64 L528.97,90.35 L529.75,90.05 L530.53,89.75 L531.31,89.44 L532.09,89.14 L532.87,88.84 L533.65,88.55 L534.43,88.25 L535.21,87.96 L535.99,87.66 L536.77,87.37 L537.55,87.08 L538.33,86.79 L539.11,86.50 L539.89,86.22 L540.67,85.93 L541.45,85.65 L542.23,85.36 L543.01,85.08 L543.79,84.80 L544.57,84.52 L545.35,84.24 L546.14,83.96 L546.92,83.69 L547.70,83.41 L548.48,83.14 L549.26,82.87 L550.04,82.60 L550.82,82.33 L551.60,82.06 L552.38,81.79 L553.16,81.52 L553.94,81.26 L554.72,80.99 L555.50,80.73 L556.28,80.47 L557.06,80.20 L557.84,79.94 L558.62,79.68 L559.40,79.43 L560.18,79.17 L560.96,78.91 L561.74,78.66 L562.52,78.40 L563.30,78.15 L564.08,77.90 L564.86,77.65 L565.64,77.40 L566.42,77.15 L567.20,76.90 L567.98,76.65 L568.77,76.40 L569.55,76.16 L570.33,75.91 L571.11,75.67 L571.89,75.43 L572.67,75.19 L573.45,74.95 L574.23,74.71 L575.01,74.47 L575.79,74.23 L576.57,73.99 L577.35,73.75 L578.13,73.52 L578.91,73.28 L579.69,73.05 L580.47,72.82 L581.25,72.58 L582.03,72.35 L582.81,72.12 L583.59,71.89 L584.37,71.66 L585.15,71.44 L585.93,71.21 L586.71,70.98 L587.49,70.76 L588.27,70.53 L589.05,70.31 L589.83,70.08 L590.61,69.86 L591.39,69.64 L592.18,69.42 L592.96,69.20 L593.74,68.98 L594.52,68.76 L595.30,68.54 L596.08,68.33 L596.86,68.11 L597.64,67.89 L598.42,67.68 L599.20,67.46 L599.98,67.25 L600.76,67.04 L601.54,66.83 L602.32,66.61 L603.10,66.40 L603.88,66.19 L604.66,65.98 L605.44,65.77 L606.22,65.57 L607.00,65.36 L607.78,65.15 L608.56,64.95 L609.34,64.74 L610.12,64.54 L610.90,64.33 L611.68,64.13 L612.46,63.93 L613.24,63.72 L614.02,63.52 L614.81,63.32 L615.59,63.12 L616.37,62.92 L617.15,62.72 L617.93,62.53 L618.71,62.33 L619.49,62.13 L620.27,61.93 L621.05,61.74 L621.83,61.54 L622.61,61.35 L623.39,61.15 L624.17,60.96 L624.95,60.77 L625.73,60.58 L626.51,60.38 L627.29,60.19 L628.07,60.00 L628.85,59.81 L629.63,59.62 L630.41,59.43 L631.19,59.25 L631.97,59.06 L632.75,58.87 L633.53,58.69 L634.31,58.50 L635.09,58.31 L635.87,58.13 L636.65,57.94 L637.43,57.76 L638.22,57.58 L639.00,57.39 L639.78,57.21 L640.56,57.03 L641.34,56.85 L642.12,56.67 L642.90,56.49 L643.68,56.31 L644.46,56.13 L645.24,55.95 L646.02,55.77 L646.80,55.60 L647.58,55.42 L648.36,55.24 L649.18,55.06 L649.99,54.87 L650.81,54.69 L651.02,54.64" fill="none" stroke="#0000ff" stroke-width="2.65" stroke-linejoin="round" stroke-linecap="square" stroke-dasharray="5.9,5.6"/>
<!-- frame -->
<rect x="71.5" y="31.5" width="591.3" height="365.0" fill="none" stroke="#555" stroke-width="0.6"/>
<line x1="83.50" y1="396.50" x2="83.50" y2="391.00" stroke="#3a3a3a" stroke-width="0.65"/>
<line x1="83.50" y1="31.50" x2="83.50" y2="37.00" stroke="#3a3a3a" stroke-width="0.65"/>
<line x1="118.97" y1="396.50" x2="118.97" y2="393.30" stroke="#444" stroke-width="0.5"/>
<line x1="118.97" y1="31.50" x2="118.97" y2="34.70" stroke="#444" stroke-width="0.5"/>
<line x1="154.44" y1="396.50" x2="154.44" y2="393.30" stroke="#444" stroke-width="0.5"/>
<line x1="154.44" y1="31.50" x2="154.44" y2="34.70" stroke="#444" stroke-width="0.5"/>
<line x1="189.91" y1="396.50" x2="189.91" y2="393.30" stroke="#444" stroke-width="0.5"/>
<line x1="189.91" y1="31.50" x2="189.91" y2="34.70" stroke="#444" stroke-width="0.5"/>
<line x1="225.38" y1="396.50" x2="225.38" y2="391.00" stroke="#3a3a3a" stroke-width="0.65"/>
<line x1="225.38" y1="31.50" x2="225.38" y2="37.00" stroke="#3a3a3a" stroke-width="0.65"/>
<line x1="260.85" y1="396.50" x2="260.85" y2="393.30" stroke="#444" stroke-width="0.5"/>
<line x1="260.85" y1="31.50" x2="260.85" y2="34.70" stroke="#444" stroke-width="0.5"/>
<line x1="296.32" y1="396.50" x2="296.32" y2="393.30" stroke="#444" stroke-width="0.5"/>
<line x1="296.32" y1="31.50" x2="296.32" y2="34.70" stroke="#444" stroke-width="0.5"/>
<line x1="331.79" y1="396.50" x2="331.79" y2="393.30" stroke="#444" stroke-width="0.5"/>
<line x1="331.79" y1="31.50" x2="331.79" y2="34.70" stroke="#444" stroke-width="0.5"/>
<line x1="367.26" y1="396.50" x2="367.26" y2="391.00" stroke="#3a3a3a" stroke-width="0.65"/>
<line x1="367.26" y1="31.50" x2="367.26" y2="37.00" stroke="#3a3a3a" stroke-width="0.65"/>
<line x1="402.73" y1="396.50" x2="402.73" y2="393.30" stroke="#444" stroke-width="0.5"/>
<line x1="402.73" y1="31.50" x2="402.73" y2="34.70" stroke="#444" stroke-width="0.5"/>
<line x1="438.20" y1="396.50" x2="438.20" y2="393.30" stroke="#444" stroke-width="0.5"/>
<line x1="438.20" y1="31.50" x2="438.20" y2="34.70" stroke="#444" stroke-width="0.5"/>
<line x1="473.67" y1="396.50" x2="473.67" y2="393.30" stroke="#444" stroke-width="0.5"/>
<line x1="473.67" y1="31.50" x2="473.67" y2="34.70" stroke="#444" stroke-width="0.5"/>
<line x1="509.14" y1="396.50" x2="509.14" y2="391.00" stroke="#3a3a3a" stroke-width="0.65"/>
<line x1="509.14" y1="31.50" x2="509.14" y2="37.00" stroke="#3a3a3a" stroke-width="0.65"/>
<line x1="544.61" y1="396.50" x2="544.61" y2="393.30" stroke="#444" stroke-width="0.5"/>
<line x1="544.61" y1="31.50" x2="544.61" y2="34.70" stroke="#444" stroke-width="0.5"/>
<line x1="580.08" y1="396.50" x2="580.08" y2="393.30" stroke="#444" stroke-width="0.5"/>
<line x1="580.08" y1="31.50" x2="580.08" y2="34.70" stroke="#444" stroke-width="0.5"/>
<line x1="615.55" y1="396.50" x2="615.55" y2="393.30" stroke="#444" stroke-width="0.5"/>
<line x1="615.55" y1="31.50" x2="615.55" y2="34.70" stroke="#444" stroke-width="0.5"/>
<line x1="651.02" y1="396.50" x2="651.02" y2="391.00" stroke="#3a3a3a" stroke-width="0.65"/>
<line x1="651.02" y1="31.50" x2="651.02" y2="37.00" stroke="#3a3a3a" stroke-width="0.65"/>
<line x1="71.50" y1="385.90" x2="77.50" y2="385.90" stroke="#3a3a3a" stroke-width="0.65"/>
<line x1="662.80" y1="385.90" x2="656.80" y2="385.90" stroke="#3a3a3a" stroke-width="0.65"/>
<line x1="71.50" y1="362.84" x2="74.70" y2="362.84" stroke="#444" stroke-width="0.5"/>
<line x1="662.80" y1="362.84" x2="659.60" y2="362.84" stroke="#444" stroke-width="0.5"/>
<line x1="71.50" y1="349.35" x2="74.70" y2="349.35" stroke="#444" stroke-width="0.5"/>
<line x1="662.80" y1="349.35" x2="659.60" y2="349.35" stroke="#444" stroke-width="0.5"/>
<line x1="71.50" y1="339.78" x2="74.70" y2="339.78" stroke="#444" stroke-width="0.5"/>
<line x1="662.80" y1="339.78" x2="659.60" y2="339.78" stroke="#444" stroke-width="0.5"/>
<line x1="71.50" y1="332.36" x2="74.70" y2="332.36" stroke="#444" stroke-width="0.5"/>
<line x1="662.80" y1="332.36" x2="659.60" y2="332.36" stroke="#444" stroke-width="0.5"/>
<line x1="71.50" y1="326.29" x2="74.70" y2="326.29" stroke="#444" stroke-width="0.5"/>
<line x1="662.80" y1="326.29" x2="659.60" y2="326.29" stroke="#444" stroke-width="0.5"/>
<line x1="71.50" y1="321.17" x2="74.70" y2="321.17" stroke="#444" stroke-width="0.5"/>
<line x1="662.80" y1="321.17" x2="659.60" y2="321.17" stroke="#444" stroke-width="0.5"/>
<line x1="71.50" y1="316.72" x2="74.70" y2="316.72" stroke="#444" stroke-width="0.5"/>
<line x1="662.80" y1="316.72" x2="659.60" y2="316.72" stroke="#444" stroke-width="0.5"/>
<line x1="71.50" y1="312.81" x2="74.70" y2="312.81" stroke="#444" stroke-width="0.5"/>
<line x1="662.80" y1="312.81" x2="659.60" y2="312.81" stroke="#444" stroke-width="0.5"/>
<line x1="71.50" y1="309.30" x2="77.50" y2="309.30" stroke="#3a3a3a" stroke-width="0.65"/>
<line x1="662.80" y1="309.30" x2="656.80" y2="309.30" stroke="#3a3a3a" stroke-width="0.65"/>
<line x1="71.50" y1="286.24" x2="74.70" y2="286.24" stroke="#444" stroke-width="0.5"/>
<line x1="662.80" y1="286.24" x2="659.60" y2="286.24" stroke="#444" stroke-width="0.5"/>
<line x1="71.50" y1="272.75" x2="74.70" y2="272.75" stroke="#444" stroke-width="0.5"/>
<line x1="662.80" y1="272.75" x2="659.60" y2="272.75" stroke="#444" stroke-width="0.5"/>
<line x1="71.50" y1="263.18" x2="74.70" y2="263.18" stroke="#444" stroke-width="0.5"/>
<line x1="662.80" y1="263.18" x2="659.60" y2="263.18" stroke="#444" stroke-width="0.5"/>
<line x1="71.50" y1="255.76" x2="74.70" y2="255.76" stroke="#444" stroke-width="0.5"/>
<line x1="662.80" y1="255.76" x2="659.60" y2="255.76" stroke="#444" stroke-width="0.5"/>
<line x1="71.50" y1="249.69" x2="74.70" y2="249.69" stroke="#444" stroke-width="0.5"/>
<line x1="662.80" y1="249.69" x2="659.60" y2="249.69" stroke="#444" stroke-width="0.5"/>
<line x1="71.50" y1="244.57" x2="74.70" y2="244.57" stroke="#444" stroke-width="0.5"/>
<line x1="662.80" y1="244.57" x2="659.60" y2="244.57" stroke="#444" stroke-width="0.5"/>
<line x1="71.50" y1="240.12" x2="74.70" y2="240.12" stroke="#444" stroke-width="0.5"/>
<line x1="662.80" y1="240.12" x2="659.60" y2="240.12" stroke="#444" stroke-width="0.5"/>
<line x1="71.50" y1="236.21" x2="74.70" y2="236.21" stroke="#444" stroke-width="0.5"/>
<line x1="662.80" y1="236.21" x2="659.60" y2="236.21" stroke="#444" stroke-width="0.5"/>
<line x1="71.50" y1="232.70" x2="77.50" y2="232.70" stroke="#3a3a3a" stroke-width="0.65"/>
<line x1="662.80" y1="232.70" x2="656.80" y2="232.70" stroke="#3a3a3a" stroke-width="0.65"/>
<line x1="71.50" y1="209.64" x2="74.70" y2="209.64" stroke="#444" stroke-width="0.5"/>
<line x1="662.80" y1="209.64" x2="659.60" y2="209.64" stroke="#444" stroke-width="0.5"/>
<line x1="71.50" y1="196.15" x2="74.70" y2="196.15" stroke="#444" stroke-width="0.5"/>
<line x1="662.80" y1="196.15" x2="659.60" y2="196.15" stroke="#444" stroke-width="0.5"/>
<line x1="71.50" y1="186.58" x2="74.70" y2="186.58" stroke="#444" stroke-width="0.5"/>
<line x1="662.80" y1="186.58" x2="659.60" y2="186.58" stroke="#444" stroke-width="0.5"/>
<line x1="71.50" y1="179.16" x2="74.70" y2="179.16" stroke="#444" stroke-width="0.5"/>
<line x1="662.80" y1="179.16" x2="659.60" y2="179.16" stroke="#444" stroke-width="0.5"/>
<line x1="71.50" y1="173.09" x2="74.70" y2="173.09" stroke="#444" stroke-width="0.5"/>
<line x1="662.80" y1="173.09" x2="659.60" y2="173.09" stroke="#444" stroke-width="0.5"/>
<line x1="71.50" y1="167.97" x2="74.70" y2="167.97" stroke="#444" stroke-width="0.5"/>
<line x1="662.80" y1="167.97" x2="659.60" y2="167.97" stroke="#444" stroke-width="0.5"/>
<line x1="71.50" y1="163.52" x2="74.70" y2="163.52" stroke="#444" stroke-width="0.5"/>
<line x1="662.80" y1="163.52" x2="659.60" y2="163.52" stroke="#444" stroke-width="0.5"/>
<line x1="71.50" y1="159.61" x2="74.70" y2="159.61" stroke="#444" stroke-width="0.5"/>
<line x1="662.80" y1="159.61" x2="659.60" y2="159.61" stroke="#444" stroke-width="0.5"/>
<line x1="71.50" y1="156.10" x2="77.50" y2="156.10" stroke="#3a3a3a" stroke-width="0.65"/>
<line x1="662.80" y1="156.10" x2="656.80" y2="156.10" stroke="#3a3a3a" stroke-width="0.65"/>
<line x1="71.50" y1="133.04" x2="74.70" y2="133.04" stroke="#444" stroke-width="0.5"/>
<line x1="662.80" y1="133.04" x2="659.60" y2="133.04" stroke="#444" stroke-width="0.5"/>
<line x1="71.50" y1="119.55" x2="74.70" y2="119.55" stroke="#444" stroke-width="0.5"/>
<line x1="662.80" y1="119.55" x2="659.60" y2="119.55" stroke="#444" stroke-width="0.5"/>
<line x1="71.50" y1="109.98" x2="74.70" y2="109.98" stroke="#444" stroke-width="0.5"/>
<line x1="662.80" y1="109.98" x2="659.60" y2="109.98" stroke="#444" stroke-width="0.5"/>
<line x1="71.50" y1="102.56" x2="74.70" y2="102.56" stroke="#444" stroke-width="0.5"/>
<line x1="662.80" y1="102.56" x2="659.60" y2="102.56" stroke="#444" stroke-width="0.5"/>
<line x1="71.50" y1="96.49" x2="74.70" y2="96.49" stroke="#444" stroke-width="0.5"/>
<line x1="662.80" y1="96.49" x2="659.60" y2="96.49" stroke="#444" stroke-width="0.5"/>
<line x1="71.50" y1="91.37" x2="74.70" y2="91.37" stroke="#444" stroke-width="0.5"/>
<line x1="662.80" y1="91.37" x2="659.60" y2="91.37" stroke="#444" stroke-width="0.5"/>
<line x1="71.50" y1="86.92" x2="74.70" y2="86.92" stroke="#444" stroke-width="0.5"/>
<line x1="662.80" y1="86.92" x2="659.60" y2="86.92" stroke="#444" stroke-width="0.5"/>
<line x1="71.50" y1="83.01" x2="74.70" y2="83.01" stroke="#444" stroke-width="0.5"/>
<line x1="662.80" y1="83.01" x2="659.60" y2="83.01" stroke="#444" stroke-width="0.5"/>
<line x1="71.50" y1="79.50" x2="77.50" y2="79.50" stroke="#3a3a3a" stroke-width="0.65"/>
<line x1="662.80" y1="79.50" x2="656.80" y2="79.50" stroke="#3a3a3a" stroke-width="0.65"/>
<line x1="71.50" y1="56.44" x2="74.70" y2="56.44" stroke="#444" stroke-width="0.5"/>
<line x1="662.80" y1="56.44" x2="659.60" y2="56.44" stroke="#444" stroke-width="0.5"/>
<line x1="71.50" y1="42.95" x2="74.70" y2="42.95" stroke="#444" stroke-width="0.5"/>
<line x1="662.80" y1="42.95" x2="659.60" y2="42.95" stroke="#444" stroke-width="0.5"/>
<line x1="71.50" y1="33.38" x2="74.70" y2="33.38" stroke="#444" stroke-width="0.5"/>
<line x1="662.80" y1="33.38" x2="659.60" y2="33.38" stroke="#444" stroke-width="0.5"/>
<line x1="71.50" y1="56.44" x2="74.70" y2="56.44" stroke="#444" stroke-width="0.5"/>
<line x1="662.80" y1="56.44" x2="659.60" y2="56.44" stroke="#444" stroke-width="0.5"/>
<line x1="71.50" y1="42.95" x2="74.70" y2="42.95" stroke="#444" stroke-width="0.5"/>
<line x1="662.80" y1="42.95" x2="659.60" y2="42.95" stroke="#444" stroke-width="0.5"/>
<line x1="71.50" y1="33.38" x2="74.70" y2="33.38" stroke="#444" stroke-width="0.5"/>
<line x1="662.80" y1="33.38" x2="659.60" y2="33.38" stroke="#444" stroke-width="0.5"/>
<line x1="71.50" y1="393.32" x2="74.70" y2="393.32" stroke="#444" stroke-width="0.5"/>
<line x1="662.80" y1="393.32" x2="659.60" y2="393.32" stroke="#444" stroke-width="0.5"/>
<line x1="71.50" y1="389.41" x2="74.70" y2="389.41" stroke="#444" stroke-width="0.5"/>
<line x1="662.80" y1="389.41" x2="659.60" y2="389.41" stroke="#444" stroke-width="0.5"/>
<g fill="#000">
<text transform="translate(83.50,416.00) scale(0.9598,1)" text-anchor="middle" font-size="16.15">0</text>
<text transform="translate(225.38,416.00) scale(0.9598,1)" text-anchor="middle" font-size="16.15">2</text>
<text transform="translate(367.26,416.00) scale(0.9598,1)" text-anchor="middle" font-size="16.15">4</text>
<text transform="translate(509.14,416.00) scale(0.9598,1)" text-anchor="middle" font-size="16.15">6</text>
<text transform="translate(651.02,416.00) scale(0.9598,1)" text-anchor="middle" font-size="16.15">8</text>
<text transform="translate(67.30,84.65) scale(0.9598,1)" text-anchor="end" font-size="16.15">0.010</text>
<text transform="translate(67.30,161.25) scale(0.9598,1)" text-anchor="end" font-size="16.15">0.001</text>
<text transform="translate(55.00,238.40) scale(0.9598,1)" text-anchor="end" font-size="16.15">10</text>
<text transform="translate(67.00,231.30) scale(0.9598,1)" text-anchor="end" font-size="11.4">−4</text>
<text transform="translate(55.00,315.00) scale(0.9598,1)" text-anchor="end" font-size="16.15">10</text>
<text transform="translate(67.00,307.90) scale(0.9598,1)" text-anchor="end" font-size="11.4">−5</text>
<text transform="translate(55.00,391.60) scale(0.9598,1)" text-anchor="end" font-size="16.15">10</text>
<text transform="translate(67.00,384.50) scale(0.9598,1)" text-anchor="end" font-size="11.4">−6</text>
<text x="367" y="18.1" text-anchor="middle" font-size="23.5" font-weight="bold" style="stroke:none">(a)</text>
<text transform="translate(13.2,214.1) rotate(-90)" text-anchor="middle" font-size="16" textLength="93.5" lengthAdjust="spacingAndGlyphs">Transmission</text>
<!-- x label -->
<text x="343.96" y="445.2" font-size="17.5" font-style="italic">ɑ</text>
<path d="M353.8,446.3 H359 M356.4,446.3 V442.3" stroke="#222" stroke-width="0.8" fill="none"/>
<path d="M360,446.4 L363.8,434.6" stroke="#000" stroke-width="1.1" fill="none"/>
<text x="366.56" y="445.2" font-size="17.5" font-style="italic">ɑ</text>
<text x="375.6" y="447.5" font-size="10.5">3</text>
<text x="385.4" y="447.4" font-size="10.5" font-style="italic">D</text>
</g>
<!-- legend -->
<line x1="481.3" y1="345.1" x2="536.8" y2="345.1" stroke="#000" stroke-width="2.35" stroke-linecap="square"/>
<line x1="481.3" y1="373.6" x2="536.8" y2="373.6" stroke="#0000ff" stroke-width="2.65" stroke-linecap="square" stroke-dasharray="5.9,5.6"/>
<g fill="#000" font-size="15.5">
<text x="547.15" y="350.5" font-style="italic">T</text>
<text x="555.85" y="352.1" font-size="11">tot</text>
<text x="569" y="350.5">=|1+</text>
<text x="601.1" y="350.5" font-style="italic">f</text>
<text x="605.75" y="352.6" font-size="11" font-style="italic">e</text>
<text x="612.45" y="350.5">+</text>
<text x="621.7" y="350.5" font-style="italic">f</text>
<text x="625.95" y="352.6" font-size="11" font-style="italic">o</text>
<text x="635.1" y="350.5">|</text>
<text x="641.55" y="343.9" font-size="10.5">2</text>
<text x="547.25" y="379" font-style="italic">T</text>
<text x="555.7" y="380.9" font-size="11" font-style="italic">e</text>
<text x="562.55" y="379">=|1+</text>
<text x="594.7" y="379" font-style="italic">f</text>
<text x="599.35" y="381" font-size="11" font-style="italic">e</text>
<text x="608.6" y="379">|</text>
<text x="614.75" y="372.4" font-size="10.5">2</text>
</g>
</svg>
</body></html>
